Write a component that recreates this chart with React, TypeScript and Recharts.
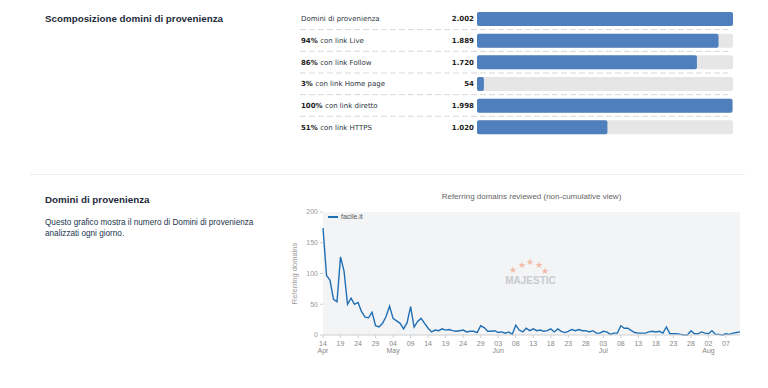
import React from "react";
import { BarChart, Bar, XAxis, YAxis, LineChart, Line, CartesianGrid, Legend } from "recharts";

const rowPercents = ["", "94%", "86%", "3%", "100%", "51%"];
const rowTexts = [
  "Domini di provenienza",
  "con link Live",
  "con link Follow",
  "con link Home page",
  "con link diretto",
  "con link HTTPS",
];
const rowValues = [2002, 1889, 1720, 54, 1998, 1020];

const monthNames = ["Jan", "Feb", "Mar", "Apr", "May", "Jun", "Jul", "Aug", "Sep", "Oct", "Nov", "Dec"];
const firstDay = { year: 2018, month: 3, day: 14 };
const referringDomains = [
  174, 97, 89, 58, 54, 127, 104, 50, 60, 50,
  53, 38, 29, 28, 37, 15, 13, 19, 30, 47,
  27, 23, 19, 10, 20, 46, 13, 22, 27, 19,
  11, 5, 8, 7, 10, 8, 9, 7, 6, 7,
  8, 5, 6, 6, 4, 15, 12, 6, 6, 7,
  4, 5, 3, 5, 1, 16, 8, 5, 11, 7,
  10, 7, 8, 6, 7, 10, 5, 10, 6, 4,
  6, 9, 7, 9, 7, 7, 5, 7, 3, 3,
  6, 5, 1, 3, 3, 15, 11, 11, 7, 4,
  3, 3, 3, 5, 6, 5, 6, 3, 13, 2,
  2, 2, 1, 0, 0, 7, 2, 2, 5, 3,
  2, 7, 1, 1, 0, 2, 1, 3, 4, 5,
];
const yTicks = [0, 50, 100, 150, 200];
const seriesName = "facile.it";

const fmtIt = (n: number) => String(n).replace(/\B(?=(\d{3})+(?!\d))/g, ".");

const rowData = rowTexts.map((t, i) => ({ label: `${rowPercents[i]} ${t}`, value: rowValues[i] }));

const lineData = referringDomains.map((v, i) => {
  const d = new Date(Date.UTC(firstDay.year, firstDay.month, firstDay.day + i));
  return {
    date: d.toISOString().slice(0, 10),
    day: String(d.getUTCDate()).padStart(2, "0"),
    month: monthNames[d.getUTCMonth()],
    value: v,
  };
});
const lineByDate: Record<string, { day: string; month: string; idx: number }> = {};
lineData.forEach((d, i) => (lineByDate[d.date] = { day: d.day, month: d.month, idx: i }));

const FONT = '"Liberation Sans", Arial, sans-serif';
const VFONT = '"DejaVu Sans", Verdana, sans-serif';

const RowTick = (props: any) => {
  const { y, index } = props;
  const i = index;
  return (
    <g>
      <text x={11} y={y} dy={2.5} fontSize={7} fill="#2d3640" fontFamily={VFONT}>
        {rowPercents[i] ? <tspan fontWeight="bold" fill="#222">{rowPercents[i] + "\u00a0"}</tspan> : null}
        <tspan>{rowTexts[i]}</tspan>
      </text>
      <text x={184} y={y} dy={2.5} fontSize={7} fontWeight="bold" fill="#222" textAnchor="end" fontFamily={VFONT}>
        {fmtIt(rowValues[i])}
      </text>
      {i < rowTexts.length - 1 ? (
        <line x1={10} x2={438} y1={y + 10.8} y2={y + 10.8} stroke="#d8d8d8" strokeDasharray="6 3" />
      ) : null}
    </g>
  );
};

const DateTick = (props: any) => {
  const { x, y, payload } = props;
  const info = lineByDate[payload.value];
  if (!info) return null;
  const prev = info.idx >= 5 ? lineData[info.idx - 5] : null;
  const showMonth = !prev || prev.month !== info.month;
  return (
    <g>
      <text x={x} y={y + 6} fontSize={7} fill="#888" textAnchor="middle" fontFamily={FONT}>
        {info.day}
      </text>
      {showMonth ? (
        <text x={x} y={y + 13} fontSize={7} fill="#888" textAnchor="middle" fontFamily={FONT}>
          {info.month}
        </text>
      ) : null}
    </g>
  );
};

const LegendContent = () => (
  <div style={{ display: "flex", alignItems: "center", fontFamily: FONT, fontSize: 7, color: "#555" }}>
    <span style={{ display: "inline-block", width: 10, height: 2, background: "#1f6fb4", marginRight: 3 }} />
    <span>{seriesName}</span>
  </div>
);

const starPos = [
  [513, 270.5],
  [521.5, 265.5],
  [530, 263.3],
  [538.5, 265.5],
  [545, 271.5],
];

export default function App() {
  return (
    <div
      style={{
        position: "absolute",
        left: 0,
        top: 0,
        width: 768,
        height: 388,
        background: "#fff",
        fontFamily: FONT,
        overflow: "hidden",
      }}
    >
      <div style={{ position: "absolute", left: 45, top: 13, fontSize: 9.8, fontWeight: "bold", color: "#1e2b3a", lineHeight: "12px" }}>
        Scomposizione domini di provenienza
      </div>

      <div style={{ position: "absolute", left: 290, top: 8 }}>
        <BarChart
          width={443}
          height={130}
          data={rowData}
          layout="vertical"
          margin={{ top: 0, right: 0, bottom: 0, left: 0 }}
          barSize={14}
        >
          <XAxis type="number" domain={[0, 2002]} hide />
          <YAxis
            type="category"
            dataKey="label"
            width={187}
            axisLine={false}
            tickLine={false}
            tick={<RowTick />}
            interval={0}
          />
          <Bar
            dataKey="value"
            fill="#4f80bd"
            radius={2}
            background={{ fill: "#e6e6e6", radius: 2 }}
            isAnimationActive={false}
          />
        </BarChart>
      </div>

      <div style={{ position: "absolute", left: 30, top: 174, width: 715, height: 1, background: "#ececec" }} />

      <div style={{ position: "absolute", left: 45, top: 194, fontSize: 9.8, fontWeight: "bold", color: "#1e2b3a", lineHeight: "12px" }}>
        Domini di provenienza
      </div>
      <div style={{ position: "absolute", left: 45, top: 217, fontSize: 8.2, color: "#23364f", lineHeight: "11px", whiteSpace: "nowrap" }}>
        Questo grafico mostra il numero di Domini di provenienza
        <br />
        analizzati ogni giorno.
      </div>

      <div
        style={{
          position: "absolute",
          left: 323,
          top: 192,
          width: 417,
          textAlign: "center",
          fontSize: 8,
          color: "#666",
          lineHeight: "10px",
        }}
      >
        Referring domains reviewed (non-cumulative view)
      </div>

      <div style={{ position: "absolute", left: 280, top: 185 }}>
        <LineChart width={470} height={175} data={lineData} margin={{ top: 27, right: 10, bottom: 0, left: 0 }}>
          <CartesianGrid fill="#f3f4f6" horizontal={false} vertical={false} stroke="none" />
          <XAxis
            dataKey="date"
            interval={4}
            height={25}
            tick={<DateTick />}
            tickSize={3}
            axisLine={{ stroke: "#cfcfcf" }}
            tickLine={{ stroke: "#cfcfcf" }}
          />
          <YAxis
            domain={[0, 200]}
            ticks={yTicks}
            width={43}
            axisLine={false}
            tickSize={3}
            tickLine={{ stroke: "#cfcfcf" }}
            tick={{ fontSize: 7, fill: "#999", fontFamily: FONT }}
            label={{
              value: "Referring domains",
              angle: -90,
              position: "insideLeft",
              offset: 14,
              style: { fontSize: 7.5, fill: "#999", fontFamily: FONT, textAnchor: "middle" },
            }}
          />
          <Legend
            layout="horizontal"
            verticalAlign="middle"
            align="center"
            wrapperStyle={{ top: 28, left: 48, width: "auto", height: "auto" }}
            content={<LegendContent />}
          />
          <Line
            type="linear"
            dataKey="value"
            name={seriesName}
            stroke="#1f6fb4"
            strokeWidth={1.4}
            dot={false}
            isAnimationActive={false}
          />
        </LineChart>
      </div>

      <div style={{ position: "absolute", left: 495, top: 255, width: 71, height: 35, pointerEvents: "none", opacity: 0.75 }}>
        {starPos.map(([sx, sy], k) => (
          <span
            key={k}
            style={{
              position: "absolute",
              left: sx - 495 - 4,
              top: sy - 255 - 5,
              fontSize: 8.5,
              lineHeight: "9px",
              color: "#f3a98d",
            }}
          >
            ★
          </span>
        ))}
        <div
          style={{
            position: "absolute",
            left: 0,
            top: 20,
            width: 71,
            textAlign: "center",
            fontSize: 10,
            fontWeight: "bold",
            color: "#b9bdc2",
            lineHeight: "12px",
          }}
        >
          MAJESTIC
        </div>
      </div>
    </div>
  );
}
